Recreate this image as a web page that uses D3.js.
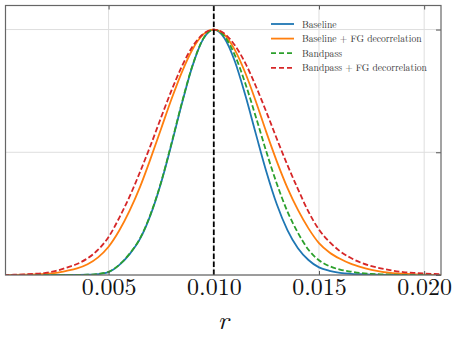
<!DOCTYPE html>
<html>
<head>
<meta charset="utf-8">
<script src="https://cdn.jsdelivr.net/npm/d3@7"></script>
<style>
  body { margin: 0; background: #fff; }
</style>
</head>
<body>
<div id="chart"></div>
<script>
// r grid shared by every posterior curve
const rGrid = [0, 0.0005, 0.001, 0.0015, 0.002, 0.0025, 0.003, 0.0035, 0.004, 0.0045,
  0.005, 0.0055, 0.006, 0.0065, 0.007, 0.0075, 0.008, 0.0085, 0.009, 0.0095,
  0.010, 0.0105, 0.011, 0.0115, 0.012, 0.0125, 0.013, 0.0135, 0.014, 0.0145,
  0.015, 0.0155, 0.016, 0.0165, 0.017, 0.0175, 0.018, 0.0185, 0.019, 0.0195,
  0.020, 0.0205, 0.021];

const baseline = [0, 0, 0, 0, 0, 0, 0.0002, 0.0005, 0.001, 0.004,
  0.012, 0.04, 0.085, 0.148, 0.246, 0.377, 0.536, 0.704, 0.855, 0.962,
  1.0, 0.966, 0.871, 0.732, 0.575, 0.421, 0.287, 0.183, 0.109, 0.061,
  0.031, 0.017, 0.009, 0.005, 0.003, 0.0015, 0.0008, 0.0003, 0.0001, 0,
  0, 0, 0];

const baselineFG = [0.0001, 0.0004, 0.001, 0.0025, 0.005, 0.009, 0.017, 0.027, 0.044, 0.072,
  0.115, 0.18, 0.262, 0.36, 0.475, 0.597, 0.719, 0.83, 0.921, 0.98,
  1.0, 0.979, 0.917, 0.823, 0.707, 0.581, 0.462, 0.355, 0.265, 0.19,
  0.13, 0.092, 0.066, 0.046, 0.032, 0.021, 0.013, 0.008, 0.005, 0.003,
  0.0015, 0.0008, 0.0004];

const bandpass = [0, 0, 0, 0, 0, 0, 0.0002, 0.0005, 0.0012, 0.0045,
  0.013, 0.041, 0.087, 0.15, 0.249, 0.38, 0.54, 0.707, 0.857, 0.963,
  1.0, 0.973, 0.896, 0.78, 0.644, 0.502, 0.371, 0.259, 0.172, 0.103,
  0.06, 0.036, 0.022, 0.014, 0.008, 0.0045, 0.0025, 0.0013, 0.0006, 0.0003,
  0.0001, 0, 0];

const bandpassFG = [0.0004, 0.001, 0.0025, 0.005, 0.009, 0.017, 0.03, 0.045, 0.068, 0.103,
  0.155, 0.232, 0.32, 0.421, 0.529, 0.643, 0.754, 0.853, 0.932, 0.982,
  1.0, 0.984, 0.936, 0.863, 0.769, 0.664, 0.554, 0.448, 0.35, 0.258,
  0.185, 0.135, 0.097, 0.07, 0.05, 0.036, 0.026, 0.018, 0.012, 0.009,
  0.006, 0.004, 0.003];

const seriesNames = ["Baseline", "Baseline + FG decorrelation", "Bandpass", "Bandpass + FG decorrelation"];
const seriesColors = ["#1f77b4", "#ff7f0e", "#2ca02c", "#d62728"];
const seriesDashed = [false, false, true, true];
const seriesValues = [baseline, baselineFG, bandpass, bandpassFG];

const xTicks = [0.005, 0.010, 0.015, 0.020];
const yTicks = [0, 0.5, 1.0];
const rTrue = 0.010;

const fontFam = "'Latin Modern Roman'";
const width = 455, height = 341;
const plotL = 5.5, plotR = 441, plotT = 5.5, plotB = 275;

const svg = d3.select("#chart")
  .append("svg")
    .attr("width", width)
    .attr("height", height);

const x = d3.scaleLinear()
  .domain([0.0001, 0.0208])
  .range([plotL, plotR]);

const y = d3.scaleLinear()
  .domain([0, 1.098])
  .range([plotB, plotT]);

svg.append("clipPath")
  .attr("id", "clip")
  .append("rect")
    .attr("x", plotL).attr("y", plotT)
    .attr("width", plotR - plotL).attr("height", plotB - plotT);

// grid
svg.append("g")
  .selectAll("line")
  .data(xTicks)
  .enter()
  .append("line")
    .attr("x1", d => x(d)).attr("x2", d => x(d))
    .attr("y1", plotT).attr("y2", plotB)
    .attr("stroke", "#dedede")
    .attr("stroke-width", 1);

svg.append("g")
  .selectAll("line")
  .data(yTicks)
  .enter()
  .append("line")
    .attr("x1", plotL).attr("x2", plotR)
    .attr("y1", d => y(d)).attr("y2", d => y(d))
    .attr("stroke", "#dedede")
    .attr("stroke-width", 1);

// curves
const line = d3.line()
  .x((d, i) => x(rGrid[i]))
  .y(d => y(d))
  .curve(d3.curveMonotoneX);

const curves = svg.append("g").attr("clip-path", "url(#clip)");
seriesValues.forEach((vals, k) => {
  curves.append("path")
    .datum(vals)
    .attr("d", line)
    .attr("fill", "none")
    .attr("stroke", seriesColors[k])
    .attr("stroke-width", 1.8)
    .attr("stroke-dasharray", seriesDashed[k] ? "5.5,2.5" : null);
});

// true r
svg.append("line")
  .attr("x1", x(rTrue)).attr("x2", x(rTrue))
  .attr("y1", plotT).attr("y2", plotB)
  .attr("stroke", "#000")
  .attr("stroke-width", 1.8)
  .attr("stroke-dasharray", "5.5,2.5");

// axes
const xAxis = svg.append("g")
  .attr("transform", `translate(0,${plotB})`)
  .call(d3.axisBottom(x).tickValues(xTicks).tickFormat(d3.format(".3f")).tickSizeInner(-4).tickSizeOuter(0).tickPadding(3));
xAxis.attr("font-family", null).attr("font-size", null);
xAxis.select(".domain").remove();
xAxis.selectAll("line").attr("stroke", "#555");
xAxis.selectAll("text")
  .style("font-family", fontFam)
  .style("font-size", "24px")
  .attr("fill", "#111");

const xTop = svg.append("g")
  .attr("transform", `translate(0,${plotT})`)
  .call(d3.axisTop(x).tickValues(xTicks).tickFormat("").tickSizeInner(-4).tickSizeOuter(0));
xTop.select(".domain").remove();
xTop.selectAll("line").attr("stroke", "#555");

const yRight = svg.append("g")
  .attr("transform", `translate(${plotR},0)`)
  .call(d3.axisRight(y).tickValues(yTicks).tickFormat("").tickSizeInner(-5).tickSizeOuter(0));
yRight.select(".domain").remove();
yRight.selectAll("line").attr("stroke", "#555");

// frame
svg.append("rect")
  .attr("x", plotL).attr("y", plotT)
  .attr("width", plotR - plotL).attr("height", plotB - plotT)
  .attr("fill", "none")
  .attr("stroke", "#666")
  .attr("stroke-width", 1.2);

// axis label
svg.append("text")
  .attr("x", (plotL + plotR) / 2)
  .attr("y", 329)
  .attr("text-anchor", "middle")
  .style("font-family", fontFam)
  .style("font-size", "26px")
  .style("font-style", "italic")
  .attr("fill", "#111")
  .text("r");

// legend
const legend = svg.append("g").attr("transform", "translate(271,24)");
seriesNames.forEach((name, k) => {
  const row = legend.append("g").attr("transform", `translate(0,${k * 14.6})`);
  row.append("line")
    .attr("x1", 0).attr("x2", 23)
    .attr("y1", 0).attr("y2", 0)
    .attr("stroke", seriesColors[k])
    .attr("stroke-width", 1.8)
    .attr("stroke-dasharray", seriesDashed[k] ? "5,3" : null);
  row.append("text")
    .attr("x", 31)
    .attr("y", 3.5)
    .style("font-family", fontFam)
    .style("font-size", "9.6px")
    .attr("fill", "#333")
    .text(name);
});
</script>
</body>
</html>
